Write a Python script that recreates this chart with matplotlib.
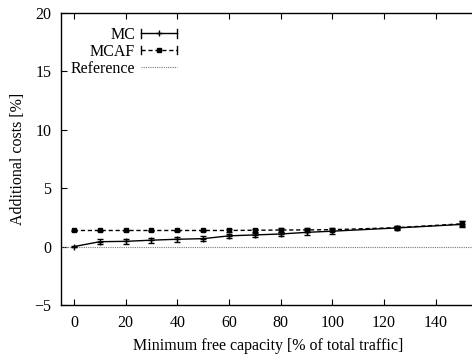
import matplotlib
matplotlib.use("Agg")
import matplotlib.pyplot as plt
from matplotlib.lines import Line2D
from matplotlib.legend_handler import HandlerBase

plt.rcParams['font.family'] = ['Liberation Serif', 'DejaVu Serif']
plt.rcParams['font.size'] = 11.5

capacity = [0, 10, 20, 30, 40, 50, 60, 70, 80, 90, 100, 125, 150]
mc = [0.0, 0.42, 0.45, 0.55, 0.63, 0.68, 0.92, 1.0, 1.08, 1.22, 1.32, 1.6, 1.9]
mc_err = [0.05, 0.2, 0.2, 0.2, 0.2, 0.2, 0.2, 0.2, 0.2, 0.2, 0.2, 0.15, 0.25]
mcaf = [1.38, 1.38, 1.38, 1.38, 1.38, 1.38, 1.38, 1.4, 1.42, 1.43, 1.45, 1.62, 1.95]
mcaf_err = [0.08, 0.08, 0.08, 0.08, 0.08, 0.08, 0.1, 0.12, 0.15, 0.15, 0.15, 0.12, 0.2]
ref_x = [-5, 155]
ref_y = [0, 0]


# gnuplot-like key sample: horizontal line, end caps, marker in the middle
class CapHandler(HandlerBase):
    def __init__(self, ls, marker, ms):
        super().__init__()
        self.ls, self.marker, self.ms = ls, marker, ms

    def create_artists(self, legend, orig, xd, yd, w, h, fontsize, trans):
        y = yd + h / 2
        line = Line2D([xd, xd + w], [y, y], color='black', lw=1.0, ls=self.ls, transform=trans)
        c1 = Line2D([xd, xd], [y - 3, y + 3], color='black', lw=1.0, transform=trans)
        c2 = Line2D([xd + w, xd + w], [y - 3, y + 3], color='black', lw=1.0, transform=trans)
        m = Line2D([xd + w / 2], [y], marker=self.marker, ms=self.ms, color='black',
                   ls='none', transform=trans)
        return [line, c1, c2, m]


fig = plt.figure(figsize=(4.72, 3.6), dpi=100)
ax = fig.add_axes([61/472, 55/360, 413.6/472, 292/360])

h_mc = ax.errorbar(capacity, mc, yerr=mc_err, color='black', lw=1.0, marker='+', ms=4,
                   capsize=2, elinewidth=0.9)
h_mcaf = ax.errorbar(capacity, mcaf, yerr=mcaf_err, color='black', lw=1.0, ls=(0, (3, 2)),
                     marker='s', ms=3, capsize=2, elinewidth=0.9)
h_ref, = ax.plot(ref_x, ref_y, color='#777777', lw=0.8, ls=(0, (1, 1)))

ax.set_xlim(-5, 155)
ax.set_ylim(-5, 20)
ax.set_xticks(range(0, 141, 20))
ax.set_yticks(range(-5, 21, 5))
ax.set_yticklabels(['\u22125', '0', '5', '10', '15', '20'])
ax.tick_params(direction='in', top=True, right=False, length=4, width=0.8, pad=7)
for s in ax.spines.values():
    s.set_linewidth(1.0)

ax.set_xlabel('Minimum free capacity [% of total traffic]', labelpad=5)
ax.set_ylabel('Additional costs [%]', labelpad=6)

ax.legend([h_mc, h_mcaf, h_ref], ['MC', 'MCAF', 'Reference'],
          handler_map={h_mc: CapHandler('-', '+', 4),
                       h_mcaf: CapHandler((0, (3, 2)), 's', 3)},
          loc='upper left', frameon=False, markerfirst=False, handlelength=2.2,
          labelspacing=0.05, borderaxespad=0.2, handletextpad=0.4,
          bbox_to_anchor=(0.0, 0.985))

fig.savefig('out.png', dpi=100)
